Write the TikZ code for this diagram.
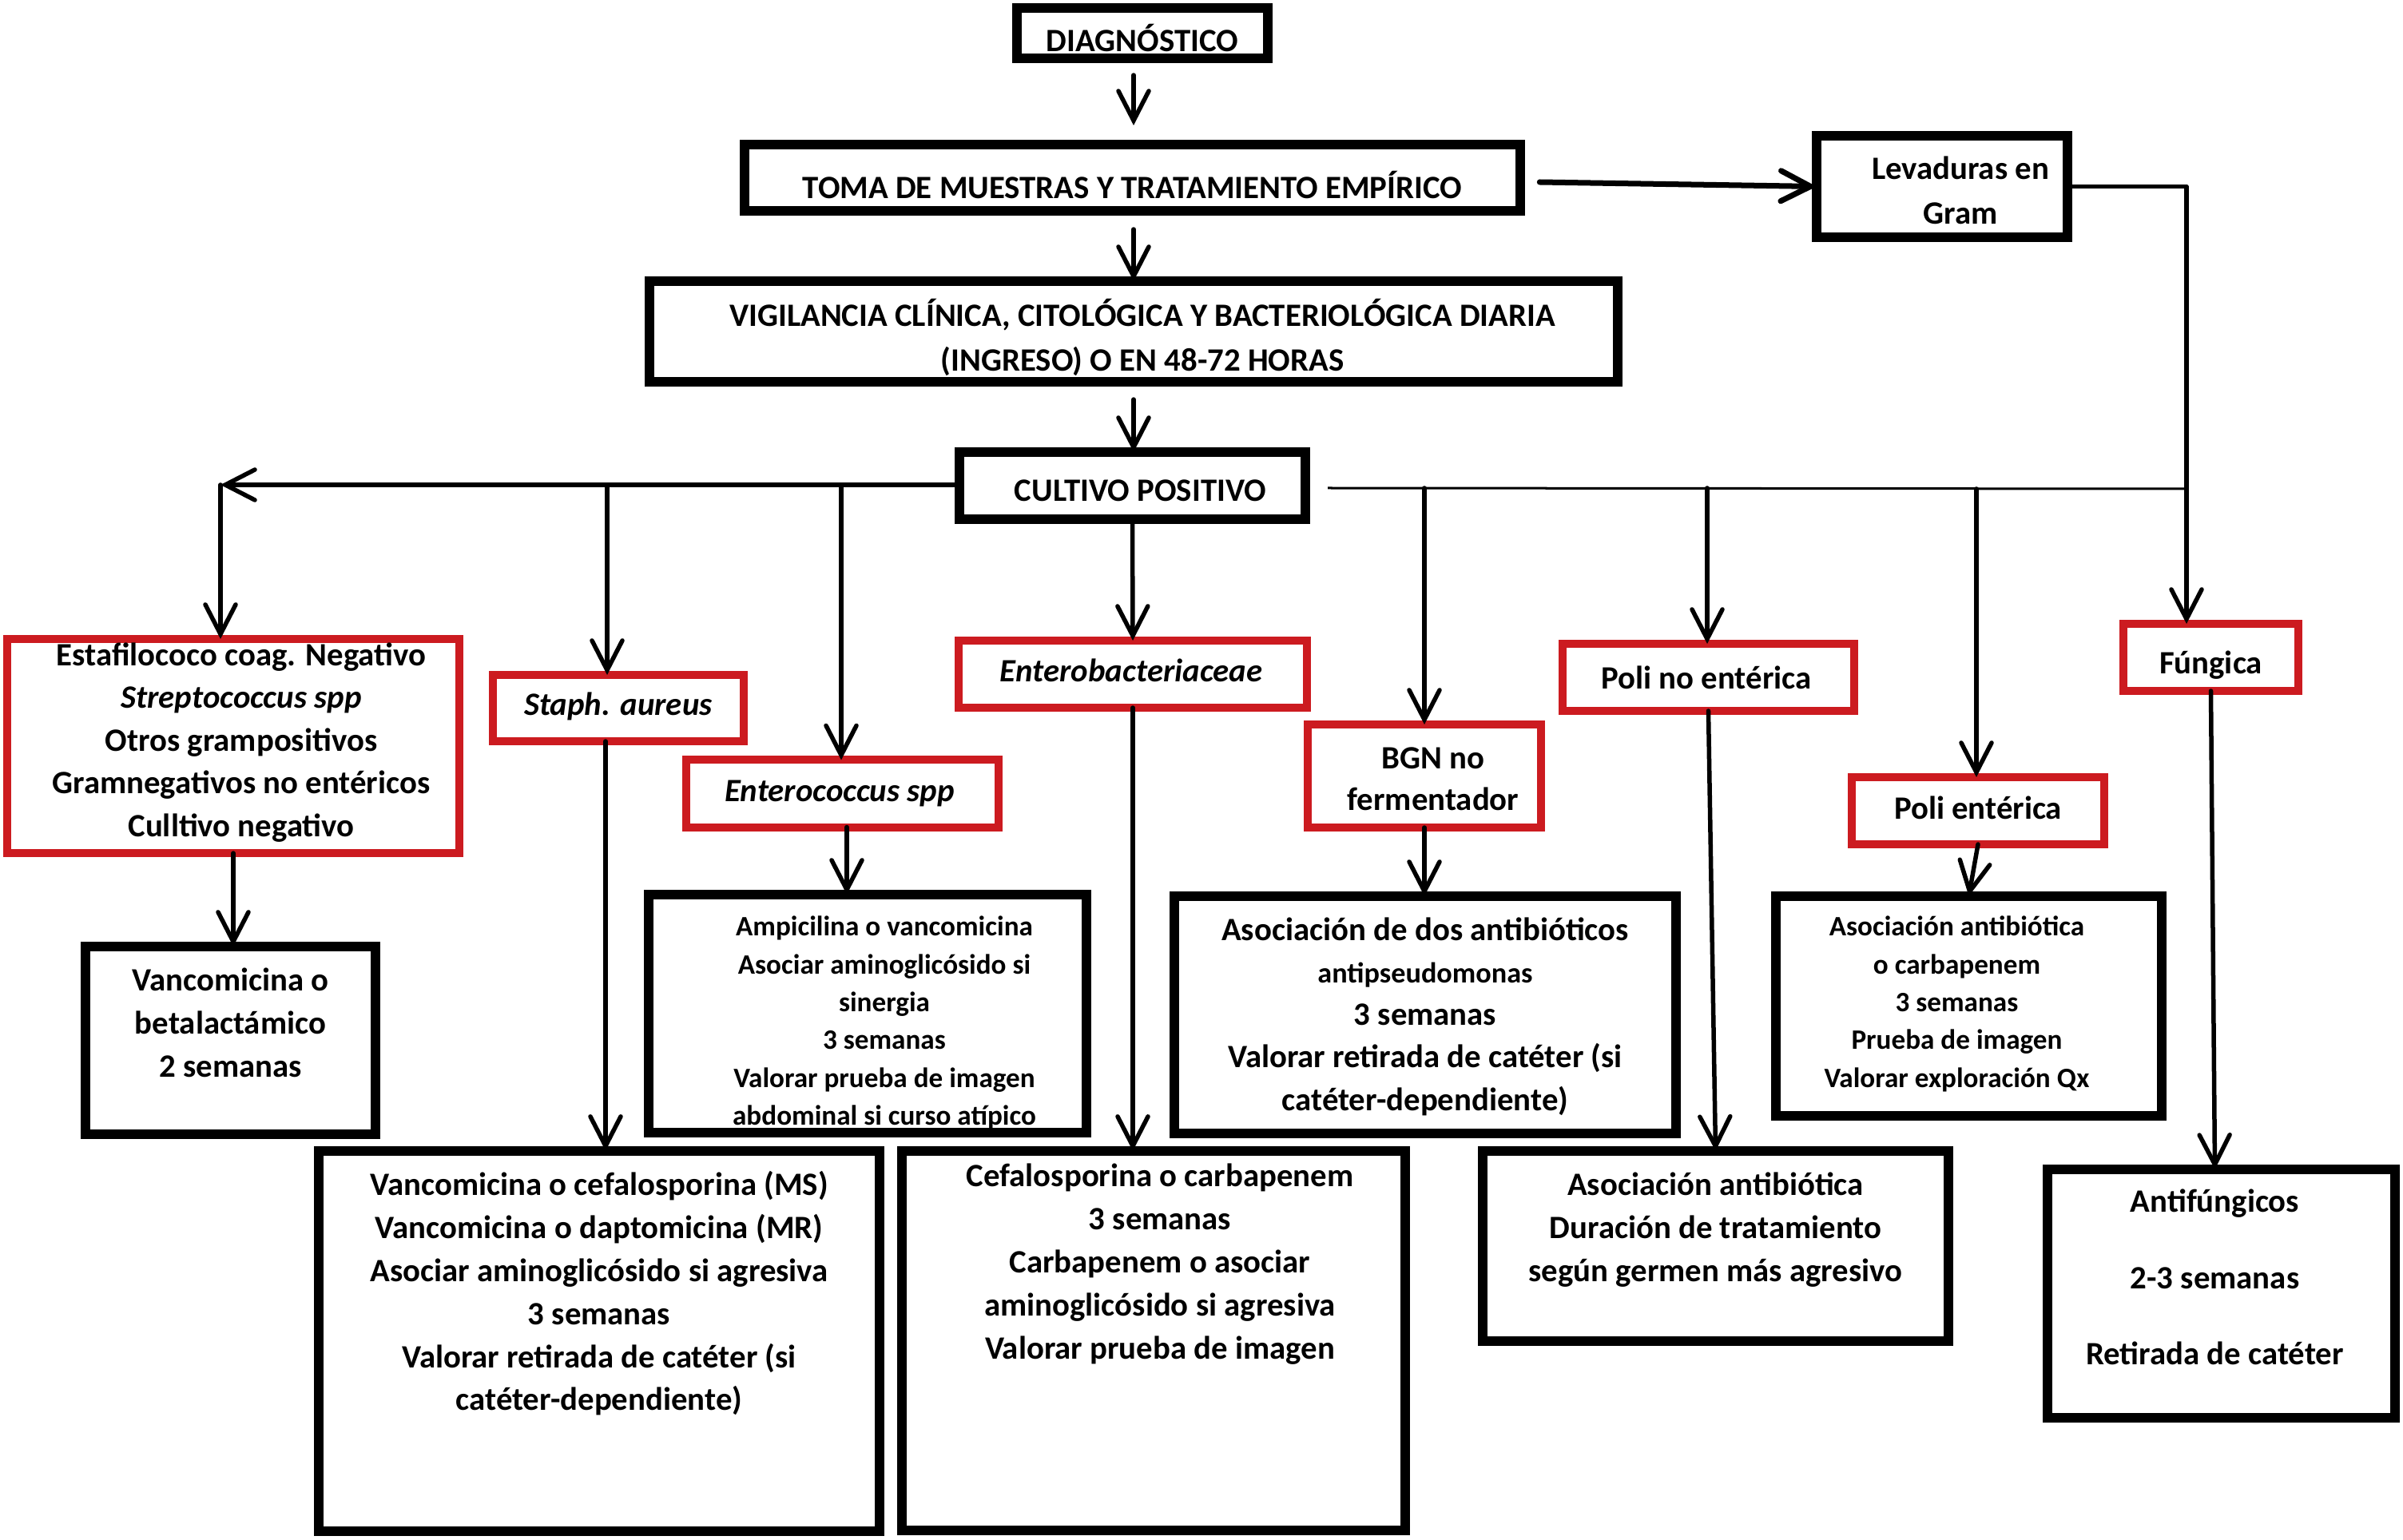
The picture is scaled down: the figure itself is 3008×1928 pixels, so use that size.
\documentclass[tikz,border=0pt]{standalone}
\usepackage{fontspec}
\setmainfont{Carlito}
\usetikzlibrary{arrows.meta,calc}
\definecolor{boxred}{RGB}{204,27,32}
\newcommand{\mainf}{\fontsize{11.6pt}{15.2pt}\selectfont\bfseries}
\newcommand{\smallf}{\fontsize{10pt}{13.45pt}\selectfont\bfseries}
\newcommand{\topf}{\fontsize{11.6pt}{15.9pt}\selectfont\bfseries}
\newcommand{\tb}[5]{\parbox[c][#2][t]{#1}{\centering\leftskip=\dimexpr#4\relax plus 1fil\rightskip=0pt plus 1fil\relax\vspace*{\dimexpr#3-1em\relax}\rule{0pt}{1em}#5}}
\tikzset{
  blkbox/.style={draw=black, line width=0.12cm, inner sep=0pt, outer sep=0pt, font=\mainf},
  redbox/.style={draw=boxred, line width=0.10cm, inner sep=0pt, outer sep=0pt, font=\mainf},
  conn/.style={line width=0.055cm, line cap=round, line join=round},
  arr/.style={conn, -{Straight Barb[length=0.37cm,width=0.38cm,line cap=round]}},
}
\begin{document}
\begin{tikzpicture}[x=0.01cm,y=-0.01cm]
\useasboundingbox[fill=white] (0,0) rectangle (3008,1928);
% top chain
\node[blkbox,font=\topf] (diag) at (1430,41.5) {\tb{3.14cm}{0.63cm}{0.54cm}{0cm}{DIAGNÓSTICO}};
\node[blkbox,font=\topf] (toma) at (1417.5,222.5) {\tb{9.71cm}{0.83cm}{0.67cm}{0cm}{TOMA DE MUESTRAS Y TRATAMIENTO EMPÍRICO}};
\node[blkbox,font=\topf] (lev) at (2431,233.5) {\tb{3.14cm}{1.27cm}{0.55cm}{0.46cm}{Levaduras en\\Gram}};
\node[blkbox,font=\topf] (vig) at (1419,415) {\tb{12.12cm}{1.26cm}{0.565cm}{0.22cm}{VIGILANCIA CLÍNICA, CITOLÓGICA Y BACTERIOLÓGICA DIARIA\\(INGRESO) O EN 48-72 HORAS}};
\node[blkbox,font=\topf] (cultivo) at (1417.5,608) {\tb{4.33cm}{0.84cm}{0.61cm}{0.2cm}{CULTIVO POSITIVO}};
% red category boxes
\node[redbox] (estaf) at (292,934) {\tb{5.66cm}{2.68cm}{0.335cm}{0.2cm}{Estafilococo coag. Negativo\\\textit{Streptococcus spp}\\Otros grampositivos\\Gramnegativos no entéricos\\Culltivo negativo}};
\node[redbox] (staph) at (774,886.5) {\tb{3.14cm}{0.83cm}{0.505cm}{0cm}{\textit{Staph. aureus}}};
\node[redbox] (entc) at (1054.5,993.5) {\tb{3.90cm}{0.84cm}{0.52cm}{-0.07cm}{\textit{Enterococcus spp}}};
\node[redbox] (enterob) at (1418,844) {\tb{4.36cm}{0.84cm}{0.515cm}{-0.04cm}{\textit{Enterobacteriaceae}}};
\node[redbox,font={\fontsize{11.6pt}{14.8pt}\selectfont\bfseries}] (bgn) at (1783,971.5) {\tb{2.92cm}{1.29cm}{0.555cm}{0.22cm}{BGN no\\fermentador}};
\node[redbox] (polino) at (2138.5,848) {\tb{3.65cm}{0.84cm}{0.565cm}{-0.05cm}{Poli no entérica}};
\node[redbox] (polien) at (2476,1015) {\tb{3.16cm}{0.84cm}{0.525cm}{0cm}{Poli entérica}};
\node[redbox] (fungica) at (2767.5,823) {\tb{2.19cm}{0.84cm}{0.62cm}{0cm}{Fúngica}};
% result boxes
\node[blkbox,font={\fontsize{11.6pt}{15.3pt}\selectfont\bfseries}] (r_estaf) at (288.5,1302.5) {\tb{3.63cm}{2.35cm}{0.56cm}{0cm}{Vancomicina o\\betalactámico\\2 semanas}};
\node[blkbox,font=\smallf] (r_ent) at (1086,1269) {\tb{5.48cm}{2.98cm}{0.52cm}{0.42cm}{Ampicilina o vancomicina\\Asociar aminoglicósido si\\sinergia\\3 semanas\\Valorar prueba de imagen\\abdominal si curso atípico}};
\node[blkbox,font={\fontsize{11.6pt}{15.3pt}\selectfont\bfseries}] (r_staph) at (750,1679) {\tb{7.02cm}{4.76cm}{0.56cm}{0cm}{Vancomicina o cefalosporina (MS)\\Vancomicina o daptomicina (MR)\\Asociar aminoglicósido si agresiva\\3 semanas\\Valorar retirada de catéter (si\\catéter-dependiente)}};
\node[blkbox,font={\fontsize{11.6pt}{15.3pt}\selectfont\bfseries}] (r_entb) at (1444,1678.5) {\tb{6.30cm}{4.75cm}{0.45cm}{0.16cm}{Cefalosporina o carbapenem\\3 semanas\\Carbapenem o asociar\\aminoglicósido si agresiva\\Valorar prueba de imagen}};
\node[blkbox,font={\fontsize{11.6pt}{15.1pt}\selectfont\bfseries}] (r_bgn) at (1784,1270.5) {\tb{6.28cm}{2.97cm}{0.557cm}{0cm}{Asociación de dos antibióticos\\{\fontsize{10.3pt}{15.1pt}\selectfont antipseudomonas}\\3 semanas\\Valorar retirada de catéter (si\\catéter-dependiente)}};
\node[blkbox,font=\smallf] (r_polient) at (2464.5,1259.5) {\tb{4.83cm}{2.75cm}{0.50cm}{-0.30cm}{Asociación antibiótica\\o carbapenem\\3 semanas\\Prueba de imagen\\Valorar exploración Qx}};
\node[blkbox,font={\fontsize{11.6pt}{15.3pt}\selectfont\bfseries}] (r_polino) at (2147.5,1560) {\tb{5.83cm}{2.38cm}{0.557cm}{0cm}{Asociación antibiótica\\Duración de tratamiento\\según germen más agresivo}};
\node[blkbox,font={\fontsize{11.6pt}{27.2pt}\selectfont\bfseries}] (r_fung) at (2780.5,1619.5) {\tb{4.35cm}{3.11cm}{0.537cm}{-0.16cm}{Antifúngicos\\2-3 semanas\\Retirada de catéter}};
% junction coordinates
\coordinate (ax) at (1419,0);
\coordinate (jL) at (276,607);
\coordinate (jS) at (760,607);
\coordinate (jE) at (1053,607);
\coordinate (jB) at (1783,611);
\coordinate (jPN) at (2137,611);
\coordinate (jPE) at (2474,612);
\coordinate (jR) at (2737,612);
\coordinate (xs) at (758,0);
\coordinate (xe) at (1060,0);
% main chain connectors
\draw[arr] ($(diag.south -| ax)+(0,-0.21cm)$) -- ($(toma.north -| ax)+(0,0.24cm)$);
\draw[arr] ($(toma.south -| ax)+(0,-0.23cm)$) -- (vig.north -| ax);
\draw[arr] ($(vig.south -| ax)+(0,-0.22cm)$) -- (cultivo.north -| ax);
\draw[arr,line width=0.07cm] ($(toma.east)+(0.24cm,-0.055cm)$) -- (lev.west);
\draw[arr] (lev.east) -- (lev.east -| jR) -- (jR |- fungica.north);
% left branches
\draw[arr] (cultivo.west |- jL) -- (jL);
\draw[arr] (jL) -- (jL |- estaf.north);
\draw[arr] (jS) -- (jS |- staph.north);
\draw[arr] (jE) -- (jE |- entc.north);
\draw[arr] (cultivo.south) -- (enterob.north);
% right branches
\draw[line width=0.03cm] ($(cultivo.east |- jB)+(0.28cm,0)$) -- (jR);
\draw[arr] (jB) -- (jB |- bgn.north);
\draw[arr] (jPN) -- (jPN |- polino.north);
\draw[arr] (jPE) -- (jPE |- polien.north);
% to results
\draw[arr] (estaf.south) -- (estaf.south |- r_estaf.north);
\draw[arr] (staph.south -| xs) -- (r_staph.north -| xs);
\draw[arr] (entc.south -| xe) -- (r_ent.north -| xe);
\draw[arr] (enterob.south) -- (enterob.south |- r_entb.north);
\draw[arr] (bgn.south) -- (bgn.south |- r_bgn.north);
\draw[arr] (polino.south) -- (r_polino.north);
\draw[arr] (polien.south) -- (r_polient.north);
\draw[arr] (fungica.south) -- ($(r_fung.north)+(-0.08cm,0)$);
\end{tikzpicture}
\end{document}
